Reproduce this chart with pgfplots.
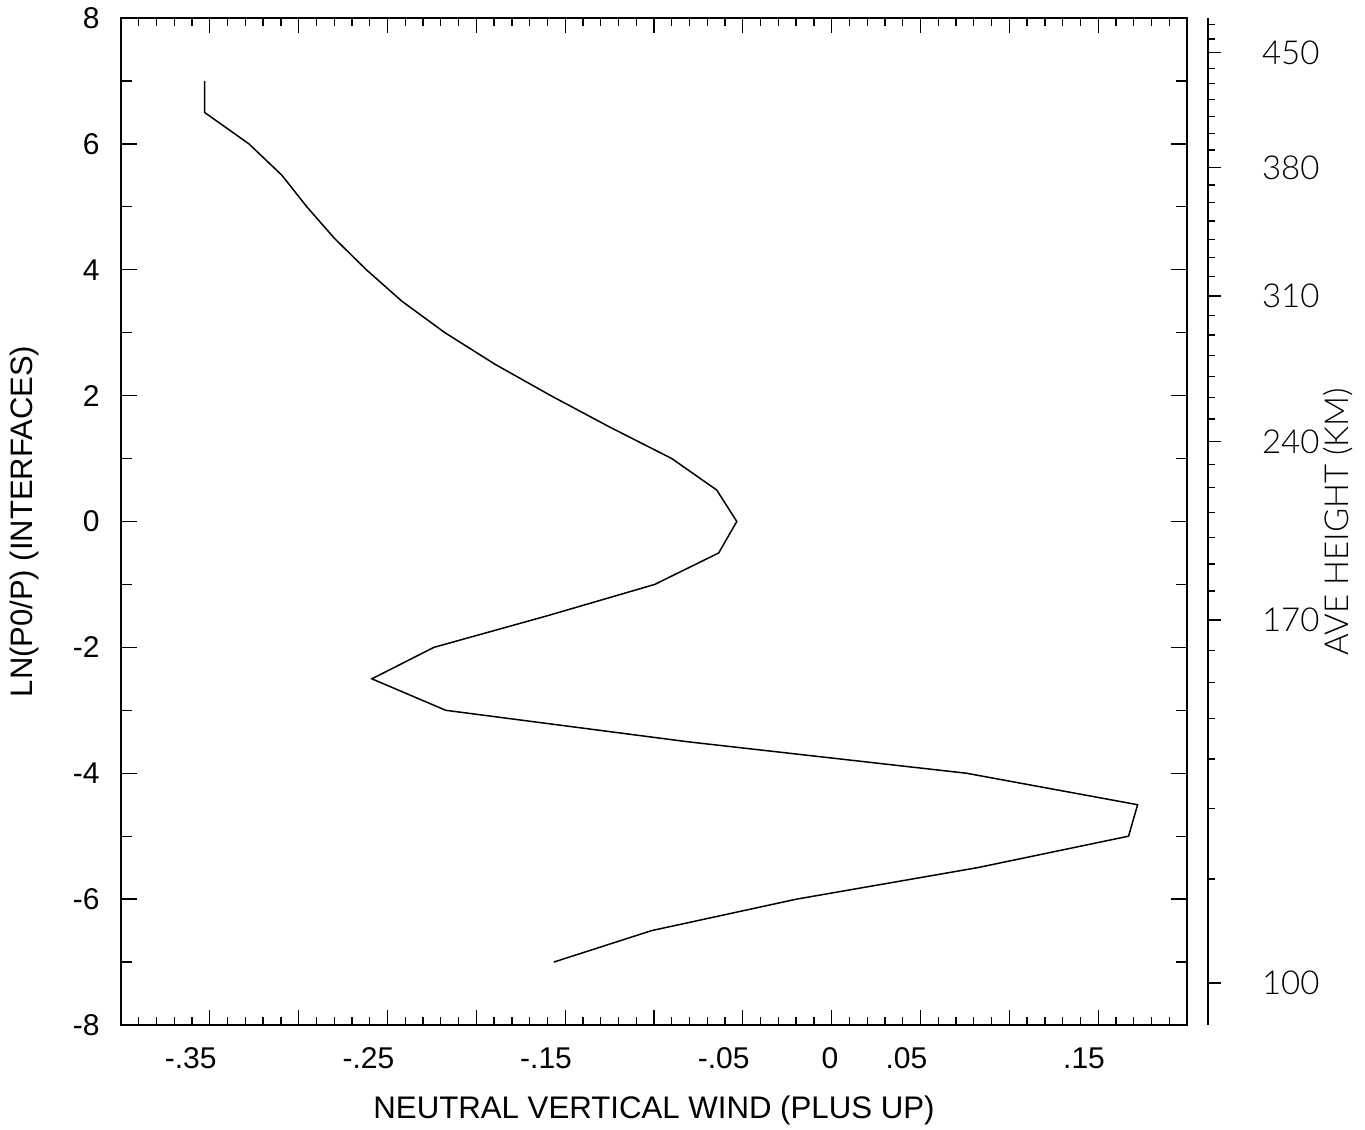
\documentclass[border=0pt]{standalone}
\usepackage{fontspec}
\setmainfont{Liberation Sans}
\IfFontExistsTF{Lato Light}{\newfontfamily\hershey{Lato Light}}{\newfontfamily\hershey{Lato}}
\usepackage{pgfplots}
\pgfplotsset{compat=1.18}
\begin{document}
\begin{tikzpicture}
% main axis: curve, x ticks, frame
\begin{axis}[
  name=main,
  scale only axis, width=533pt, height=503.5pt,
  xmin=-0.404, xmax=0.196, ymin=-8, ymax=8,
  xtick={-0.404,-0.354,-0.304,-0.254,-0.204,-0.154,-0.104,-0.054,-0.004,0.046,0.096,0.146,0.196},
  xticklabels={},
  minor x tick num=4,
  ytick=\empty,
  tick align=inside,
  major tick length=7.5pt, minor tick length=4pt,
  every tick/.style={black, line width=0.65pt},
  axis line style={line width=1pt},
  extra x ticks={-0.35,-0.25,-0.15,-0.05,0,0.05,0.15},
  extra x tick labels={-.35,-.25,-.15,-.05,0,.05,.15},
  extra x tick style={major tick length=0pt,
    tick label style={anchor=north east, inner sep=0pt, yshift=-11pt,
      font=\fontsize{15}{18}\selectfont}},
  xlabel={NEUTRAL VERTICAL WIND (PLUS UP)},
  xlabel style={font=\fontsize{15.6}{18}\selectfont, at={(axis description cs:0.5,-0.0705)}, anchor=north, inner sep=0pt},
]
\addplot[black, line width=0.75pt] table[x=w, y=z] {
w z
-0.3570 7.0
-0.3570 6.5
-0.3320 6.0
-0.3134 5.5
-0.2994 5.0
-0.2839 4.5
-0.2659 4.0
-0.2459 3.5
-0.2217 3.0
-0.1936 2.5
-0.1621 2.0
-0.1289 1.5
-0.0940 1.0
-0.0687 0.5
-0.0574 0.0
-0.0676 -0.5
-0.1036 -1.0
-0.1643 -1.5
-0.2279 -2.0
-0.2628 -2.5
-0.2212 -3.0
-0.0850 -3.5
0.0719 -4.0
0.1682 -4.5
0.1631 -5.0
0.0781 -5.5
-0.0237 -6.0
-0.1053 -6.5
-0.1604 -7.0
};
\end{axis}
% y ticks of the main frame
\begin{axis}[
  scale only axis, width=533pt, height=503.5pt,
  xmin=0, xmax=1, ymin=-8, ymax=8,
  xtick=\empty,
  ytick={-8,-6,-4,-2,0,2,4,6,8},
  yticklabels={-8\hspace{6pt},-6\hspace{6pt},-4\hspace{6pt},-2\hspace{6pt},0,2,4,6,8},
  minor ytick={-7,-5,-3,-1,1,3,5,7},
  tick align=inside,
  major tick length=7.8pt, minor tick length=5.3pt,
  every tick/.style={black, line width=0.65pt},
  axis line style={line width=1pt},
  yticklabel style={font=\fontsize{15}{18}\selectfont, anchor=east, inner sep=0pt, xshift=-10.5pt},
  ylabel={LN(P0/P) (INTERFACES)},
  ylabel style={font=\fontsize{15.5}{18}\selectfont, at={(axis description cs:-0.0826,0.5)}, anchor=base, inner sep=0pt},
]
\end{axis}
% right height axis
\begin{axis}[
  at={(main.south east)}, anchor=south west,
  scale only axis, width=10.5pt, height=503.5pt,
  xmin=0, xmax=1, ymin=-8, ymax=8,
  axis x line=none, axis y line*=right,
  ytick={-7.332,-1.564,1.268,3.583,5.621,7.449},
  yticklabels={100,170,240,310,380,450},
  minor ytick={-5.680,-4.557,-3.773,-3.127,-2.561,-2.052,-1.104,-0.675,-0.257,0.147,0.544,0.909,1.629,1.968,2.301,2.635,2.963,3.277,3.890,4.192,4.484,4.775,5.072,5.347,5.903,6.168,6.432,6.708,6.963,7.201,7.666,7.900},
  tick align=outside,
  major tick length=6.3pt, minor tick length=3.3pt,
  every tick/.style={black, line width=0.6pt},
  axis line style={line width=0.6pt},
  yticklabel style={font=\hershey\fontsize{16.5}{19}\selectfont, anchor=west, inner sep=0pt, xshift=20.5pt},
  ylabel={AVE HEIGHT (KM)},
  ylabel style={font=\hershey\fontsize{16.5}{19}\selectfont, at={(axis description cs:7.667,0.5)}, anchor=base, inner sep=0pt},
]
\end{axis}
\pgfresetboundingbox
\path[use as bounding box] ([xshift=-60.5pt,yshift=-52.5pt]main.south west) rectangle ([xshift=89pt,yshift=9pt]main.north east);
\end{tikzpicture}
\end{document}
